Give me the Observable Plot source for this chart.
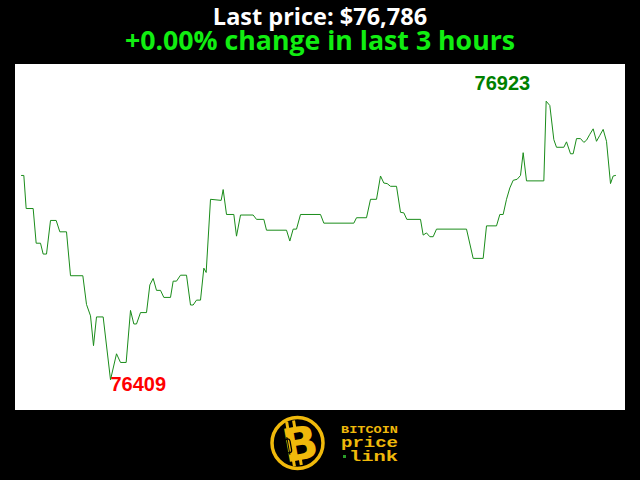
<!DOCTYPE html>
<html>
<head>
<meta charset="utf-8">
<script src="https://cdn.jsdelivr.net/npm/d3@7"></script>
<script src="https://cdn.jsdelivr.net/npm/@observablehq/plot@0.6"></script>
<style>
  html, body { margin: 0; padding: 0; background: #000; }
  #wrap { position: relative; width: 640px; height: 480px; background: #000; overflow: hidden; }
  .title { position: absolute; left: 0; width: 640px; text-align: center; font-family: "Open Sans", sans-serif; font-weight: 700; white-space: nowrap; overflow: visible; }
  #t1 { top: 6px; height: 20px; line-height: 20px; font-size: 23.5px; color: #fff; }
  #t2 { top: 30px; height: 20px; line-height: 20px; font-size: 26.7px; color: #11ee11; }
  #chart { position: absolute; left: 15px; top: 64px; width: 610px; height: 346px; background: #fff; }
  #logo { position: absolute; left: 262px; top: 410px; }
</style>
</head>
<body>
<div id="wrap">
  <div class="title" id="t1"></div>
  <div class="title" id="t2"></div>
  <div id="chart"></div>
  <svg id="logo" width="150" height="66" viewBox="0 0 150 66">
    <circle cx="35.5" cy="33" r="25.5" fill="#000" stroke="#f0b90b" stroke-width="3.5"/>
    <g transform="rotate(-10 37 33)">
      <rect x="27" y="10" width="3" height="8" fill="#f0b90b"/>
      <rect x="34" y="10" width="3" height="8" fill="#f0b90b"/>
      <rect x="27" y="47" width="3" height="8" fill="#f0b90b"/>
      <rect x="34" y="47" width="3" height="8" fill="#f0b90b"/>
      <text x="38" y="50" text-anchor="middle" font-family="DejaVu Sans" font-weight="bold" font-size="46" fill="#f0b90b">B</text>
      <rect x="23.5" y="27" width="5" height="14" rx="2.5" fill="none" stroke="#000" stroke-width="1.3"/>
      <line x1="26" y1="25" x2="26" y2="43" stroke="#000" stroke-width="1"/>
    </g>
    <text x="79" y="23" textLength="57" lengthAdjust="spacingAndGlyphs" font-family="Liberation Mono, DejaVu Sans Mono, monospace" font-weight="bold" font-size="11.5" fill="#f0b90b">BITCOIN</text>
    <text x="79" y="36.5" textLength="57" lengthAdjust="spacingAndGlyphs" font-family="Liberation Mono, DejaVu Sans Mono, monospace" font-weight="bold" font-size="15" fill="#f0b90b">price</text>
    <rect x="81" y="45" width="3" height="3" fill="#2a9d2a"/>
    <text x="87" y="50.5" textLength="49" lengthAdjust="spacingAndGlyphs" font-family="Liberation Mono, DejaVu Sans Mono, monospace" font-weight="bold" font-size="15" fill="#f0b90b">link</text>
  </svg>
</div>
<script>
// ---- data (minutes since start, BTC price in USD) ----
const minutes = [0.0,0.7,1.4,3.5,4.4,5.7,6.5,7.5,8.7,10.4,11.5,13.5,14.7,18.4,19.5,20.7,21.6,22.5,24.5,26.7,28.5,29.7,31.4,32.7,33.7,34.5,35.7,37.5,38.5,39.5,40.5,41.7,42.7,44.7,45.5,46.5,47.7,49.5,50.7,51.5,52.5,53.7,54.7,55.4,56.7,59.9,60.5,61.5,63.7,64.5,65.7,69.5,70.5,72.7,73.5,79.5,80.5,81.5,82.5,83.7,89.7,90.7,99.7,100.5,103.5,104.7,106.5,107.7,108.7,109.7,110.7,112.5,113.7,114.7,115.6,119.7,120.5,121.5,122.5,123.5,124.5,133.5,135.5,138.5,139.5,142.5,143.5,144.5,145.5,146.5,147.5,148.7,149.7,150.5,151.5,156.7,157.4,158.5,159.7,160.5,162.7,163.5,164.7,165.5,166.5,167.7,168.7,169.5,170.5,171.5,172.5,173.5,174.5,175.5,176.7,177.5,178.2];
const prices = [76786,76786,76725,76725,76661,76661,76641,76641,76703,76703,76682,76682,76601,76601,76548,76527,76472,76525,76525,76409,76457,76441,76441,76537,76512,76512,76533,76533,76584,76596,76574,76574,76561,76561,76591,76591,76602,76602,76547,76547,76556,76556,76615,76607,76742,76740,76760,76714,76714,76674,76713,76713,76705,76705,76685,76685,76665,76687,76687,76714,76714,76698,76698,76708,76708,76742,76742,76785,76772,76771,76766,76766,76718,76717,76705,76705,76676,76680,76673,76673,76687,76687,76633,76633,76693,76693,76714,76714,76742,76763,76777,76779,76786,76828,76776,76776,76923,76915,76852,76838,76838,76848,76826,76826,76854,76854,76847,76851,76862,76872,76849,76860,76871,76849,76771,76785,76786];
const lastPrice = 76786;
const changePct = 0.00;
const periodHours = 3;
const titleText = "Last price: $" + d3.format(",")(lastPrice);
const subtitleText = (changePct >= 0 ? "+" : "") + changePct.toFixed(2) + "% change in last " + periodHours + " hours";

document.getElementById("t1").textContent = titleText;
document.getElementById("t2").textContent = subtitleText;

const series = minutes.map((m, i) => ({m, p: prices[i]}));
const maxPt = series.reduce((a, b) => (b.p > a.p ? b : a));
const minPt = series.reduce((a, b) => (b.p < a.p ? b : a));

const chart = Plot.plot({
  width: 610,
  height: 346,
  margin: 0,
  style: {background: "#fff", fontFamily: "Liberation Sans, Arial, sans-serif"},
  x: {domain: [0, 178.2], range: [6, 600], axis: null},
  y: {domain: [76409, 76923], range: [315.3, 36.7], axis: null},
  marks: [
    Plot.line(series, {x: "m", y: "p", stroke: "#1a8c1a", strokeWidth: 1}),
    Plot.text([maxPt], {x: "m", y: "p", text: d => String(d.p), textAnchor: "end", lineAnchor: "bottom", dx: -16, dy: -11, fill: "#008000", fontSize: 20, fontWeight: "bold"}),
    Plot.text([minPt], {x: "m", y: "p", text: d => String(d.p), textAnchor: "start", lineAnchor: "bottom", dx: 0, dy: 11, fill: "#ff0000", fontSize: 20, fontWeight: "bold"})
  ]
});
document.getElementById("chart").appendChild(chart);
</script>
</body>
</html>
